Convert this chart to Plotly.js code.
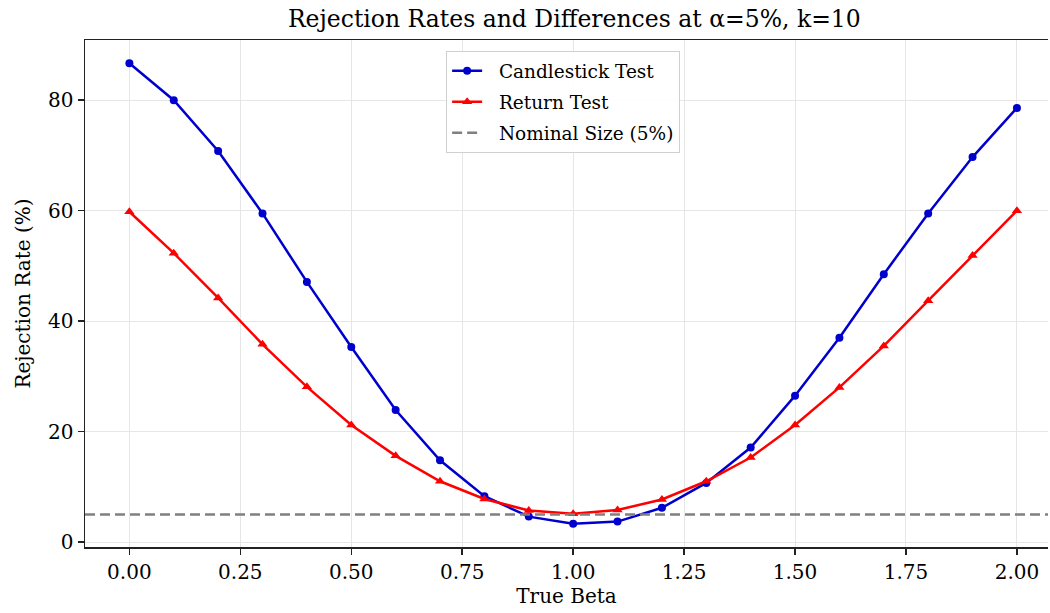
<!DOCTYPE html>
<html><head><meta charset="utf-8">
<script src="https://cdn.plot.ly/plotly-3.0.1.min.js"></script>
<style>body{margin:0;background:#fff}#chart{width:1050px;height:613px}</style>
</head><body><div id="chart"></div>
<script>
const beta = [0.0,0.1,0.2,0.3,0.4,0.5,0.6,0.7,0.8,0.9,1.0,1.1,1.2,1.3,1.4,1.5,1.6,1.7,1.8,1.9,2.0];
const candlestick = [86.7,80.0,70.8,59.5,47.1,35.3,23.9,14.8,8.3,4.6,3.3,3.7,6.2,10.7,17.1,26.5,37.0,48.5,59.5,69.7,78.6];
const returnTest = [59.8,52.3,44.2,35.8,28.1,21.2,15.6,11.0,7.8,5.7,5.1,5.8,7.7,11.0,15.3,21.2,28.0,35.5,43.7,51.9,60.0];
const nominal = 5;
const xTicks = [0,0.25,0.5,0.75,1.0,1.25,1.5,1.75,2.0];
const xTickText = ["0.00","0.25","0.50","0.75","1.00","1.25","1.50","1.75","2.00"];
const seriesNames = ['Candlestick Test', 'Return Test', 'Nominal Size (5%)'];

const font = "DejaVu Serif, Liberation Serif, serif";
const pad = '\u00A0\u00A0';
const traces = [
  {x: beta, y: candlestick, mode: 'lines+markers', name: pad + seriesNames[0], legendgroup: 'a',
   line: {color: '#0000CD', width: 2.5}, marker: {symbol: 'circle', size: 8, color: '#0000CD'}},
  {x: beta, y: returnTest, mode: 'lines+markers', name: pad + seriesNames[1], legendgroup: 'b',
   line: {color: '#FF0000', width: 2.5}, marker: {symbol: 'triangle-up', size: 9, color: '#FF0000'}},
  {x: [-0.1, 2.1], y: [nominal, nominal], mode: 'lines', name: pad + seriesNames[2], legendgroup: 'c',
   line: {color: '#808080', width: 2.5, dash: '10px,5px'}, hoverinfo: 'skip'}
];
const layout = {
  width: 1050, height: 613,
  margin: {l: 85, r: 2, t: 40, b: 66},
  paper_bgcolor: '#fff', plot_bgcolor: '#fff',
  font: {family: font, color: '#000', size: 18},
  title: {text: 'Rejection Rates and Differences at α=5%, k=10', font: {family: font, size: 23.5}, x: 0.547, xanchor: 'center', y: 0.982, yanchor: 'top'},
  xaxis: {
    title: {text: 'True Beta', font: {size: 20}, standoff: 6},
    range: [-0.1, 2.07], tickvals: xTicks, ticktext: xTickText,
    showline: true, linecolor: '#222', linewidth: 1.5, mirror: true,
    ticks: 'outside', ticklen: 6, tickcolor: '#222', tickwidth: 1.5,
    showgrid: true, gridcolor: '#e6e6e6', gridwidth: 1, zeroline: false,
    tickfont: {size: 20}
  },
  yaxis: {
    title: {text: 'Rejection Rate (%)', font: {size: 20}, standoff: 12},
    range: [-0.9, 90.9], tickvals: [0,20,40,60,80],
    showline: true, linecolor: '#222', linewidth: 1.5, mirror: false,
    ticks: 'outside', ticklen: 6, tickcolor: '#222', tickwidth: 1.5,
    showgrid: true, gridcolor: '#e6e6e6', gridwidth: 1, zeroline: false,
    tickfont: {size: 20}
  },
  legend: {x: 0.375, y: 0.978, xanchor: 'left', yanchor: 'top',
    bgcolor: 'rgba(255,255,255,0.9)', bordercolor: '#d0d0d0', borderwidth: 1,
    font: {size: 18.5}, tracegroupgap: 4},
  showlegend: true
};
Plotly.newPlot('chart', traces, layout, {displayModeBar: false, staticPlot: true});
</script></body></html>
